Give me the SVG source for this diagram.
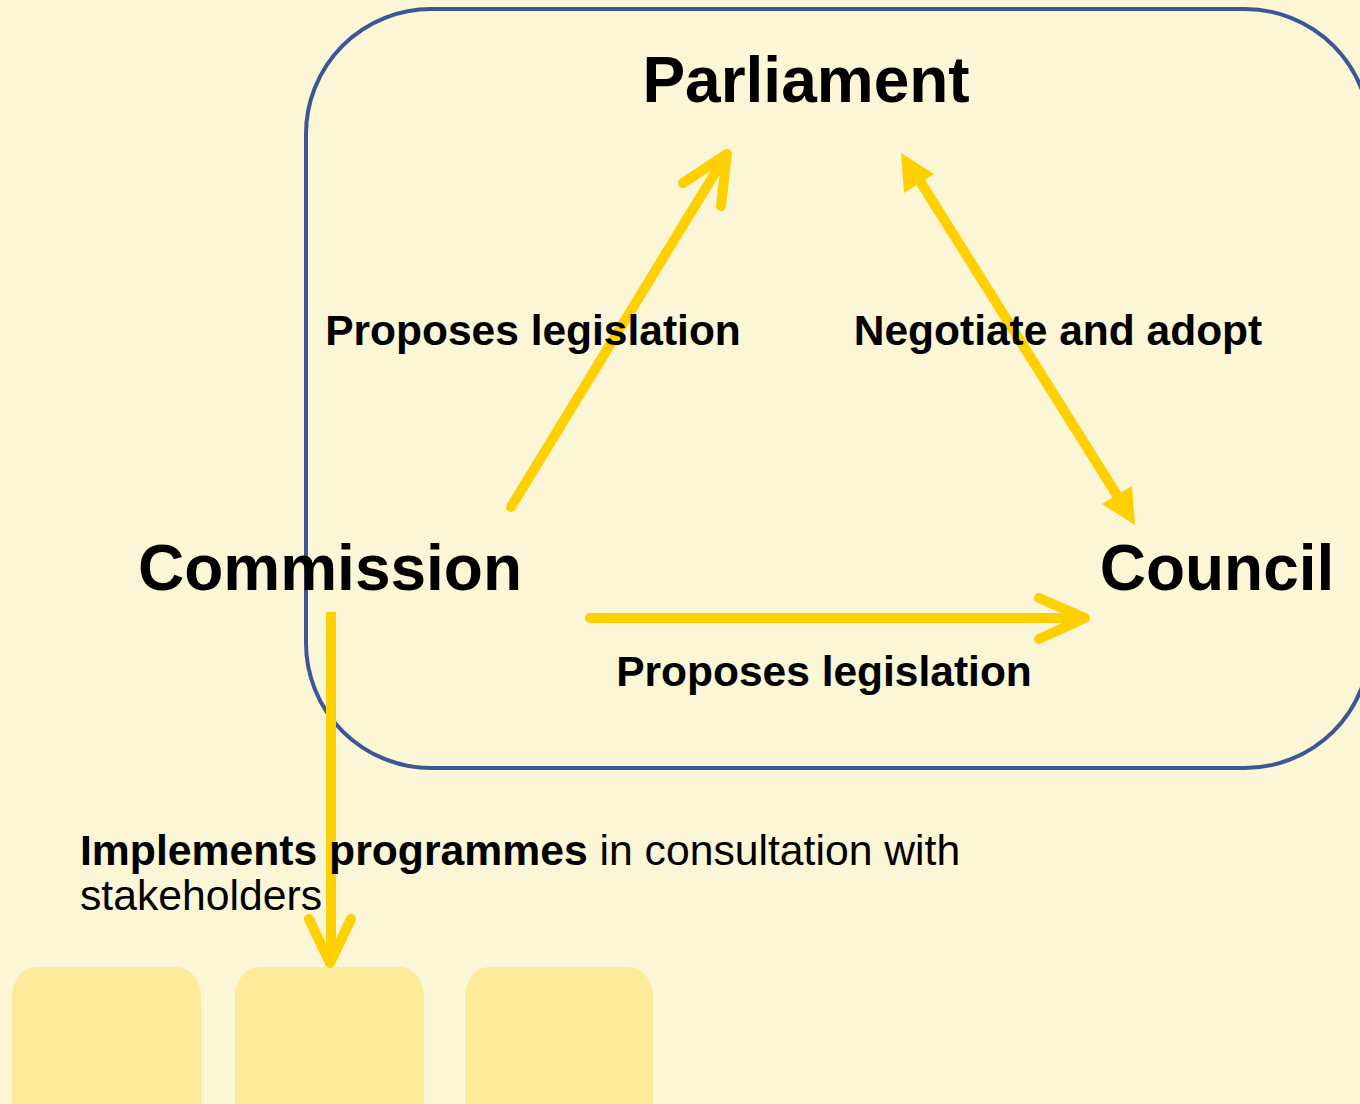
<svg xmlns="http://www.w3.org/2000/svg" width="1360" height="1104" viewBox="0 0 1360 1104">
<style>
.lbl{font-family:"Liberation Sans",Arial,sans-serif;font-weight:bold;fill:#000}
.node{font-size:64px}
.edge{font-size:42.5px}
.conn{stroke:#ffd000;stroke-width:10;fill:none;stroke-linecap:round;stroke-linejoin:round}
.box{fill:#fdeb99}
.plain{font-family:"Liberation Sans",Arial,sans-serif;font-size:42.7px;fill:#000}
</style>
<rect width="1360" height="1104" fill="#faf6d6"/>
<g id="group-frame">
<rect x="306" y="9" width="1064" height="759" rx="125" ry="125" fill="none" stroke="#3c5698" stroke-width="4"/>
</g>
<g id="boxes">
<rect id="box1" class="box" x="12" y="967" width="189" height="163" rx="24" ry="30"/>
<rect id="box2" class="box" x="235" y="967" width="189" height="163" rx="24" ry="30"/>
<rect id="box3" class="box" x="465" y="967" width="188" height="163" rx="24" ry="30"/>
</g>
<g id="connectors">
<path class="conn" d="M511,507 L726,155"/>
<path class="conn" d="M683,183 L727,154 L721,206"/>
<line x1="913" y1="170" x2="1125" y2="508" stroke="#ffd000" stroke-width="10"/>
<polygon points="901,153 934,174 904,193" fill="#ffd000"/>
<polygon points="1135,525 1132,486 1102,504" fill="#ffd000"/>
<path class="conn" d="M590,618 L1084,618"/>
<path class="conn" d="M1039,598 L1085,618 L1039,639"/>
<path d="M331,612 L331,960" stroke="#ffd000" stroke-width="10" fill="none"/>
<path class="conn" d="M309,919 L330,963 L351,919"/>
</g>
<g id="node-parliament"><text class="lbl node" x="806" y="102" text-anchor="middle">Parliament</text></g>
<g id="node-commission"><text class="lbl node" x="330" y="590" text-anchor="middle">Commission</text></g>
<g id="node-council"><text class="lbl node" x="1217" y="590" text-anchor="middle">Council</text></g>
<g id="edge-labels">
<text class="lbl edge" x="533" y="345" text-anchor="middle">Proposes legislation</text>
<text class="lbl edge" x="1058" y="345" text-anchor="middle">Negotiate and adopt</text>
<text class="lbl edge" x="824" y="686" text-anchor="middle">Proposes legislation</text>
</g>
<g id="implements-label">
<text class="plain" x="80" y="865"><tspan font-weight="bold">Implements programmes</tspan> in consultation with</text>
<text class="plain" x="80" y="910">stakeholders</text>
</g>
</svg>
